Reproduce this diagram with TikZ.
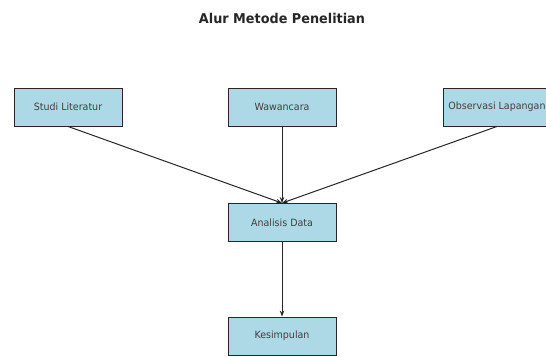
\documentclass[tikz,border=0pt]{standalone}
\usepackage{fontspec}
\setmainfont{DejaVu Sans}[FakeStretch=0.95]
\usetikzlibrary{arrows.meta}
\definecolor{lightblue}{HTML}{ADD8E6}

\begin{document}
\begin{tikzpicture}[x=1pt, y=-1pt,
    kotak/.style={draw=black!85, line width=0.9pt, fill=lightblue,
        minimum width=108pt, minimum height=38pt, inner sep=0pt,
        text=black!75, font=\fontsize{10}{12}\selectfont},
    panah/.style={-{Stealth[length=6pt,width=4.5pt]}, draw=black!85, line width=1pt}]
    \useasboundingbox (0,0) rectangle (546,356);

    % Title
    \node[font=\fontsize{13.5}{16}\selectfont\bfseries, text=black!85] (judul) at (282,18) {Alur Metode Penelitian};

    % Data sources
    \node[kotak] (studi) at (68,107) {Studi Literatur};
    \node[kotak] (wawancara) at (282,107) {Wawancara};
    \node[kotak] (observasi) at (497,107) {Observasi Lapangan};

    % Analysis and conclusion
    \node[kotak] (analisis) at (282,222.5) {Analisis Data};
    \node[kotak] (kesimpulan) at (282,336) {Kesimpulan};

    % Arrows
    \draw[panah] (studi.south) -- (analisis.north);
    \draw[panah] (wawancara.south) -- (analisis.north);
    \draw[panah] (observasi.south) -- (analisis.north);
    \draw[panah] (analisis.south) -- (kesimpulan.north);

\end{tikzpicture}
\end{document}
